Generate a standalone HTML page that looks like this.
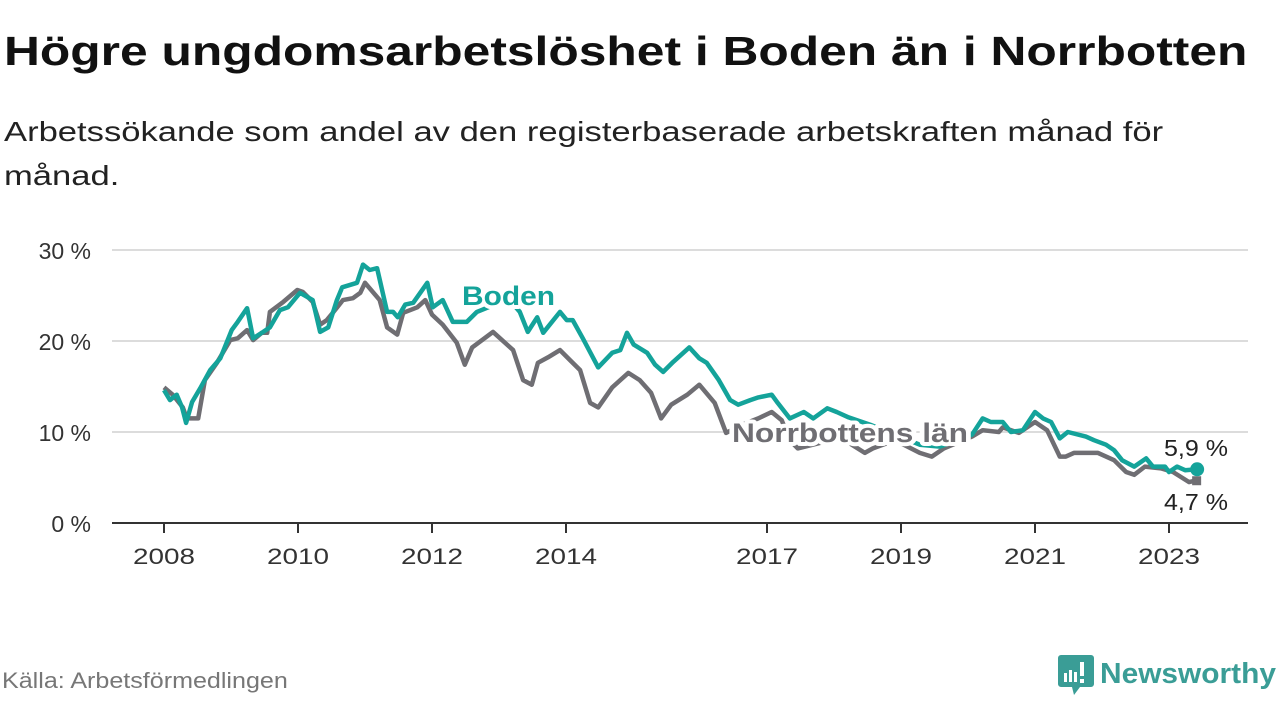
<!DOCTYPE html>
<html><head><meta charset="utf-8">
<style>
body{margin:0;width:1280px;height:720px;background:#fff;overflow:hidden;font-family:"Liberation Sans","DejaVu Sans",sans-serif;}
#title{position:absolute;left:4px;top:28px;font-size:41px;font-weight:bold;color:#111;margin:0;white-space:nowrap;transform:scaleX(1.213);transform-origin:0 0}
#sub{position:absolute;left:4px;top:110px;font-size:28px;color:#222;line-height:44px;margin:0;white-space:nowrap;transform:scaleX(1.235);transform-origin:0 0}
#src{position:absolute;left:2px;top:668px;font-size:22px;color:#777;white-space:nowrap;transform:scaleX(1.14);transform-origin:0 0}
</style></head><body>
<h1 id="title">Högre ungdomsarbetslöshet i Boden än i Norrbotten</h1>
<p id="sub">Arbetssökande som andel av den registerbaserade arbetskraften månad för<br>månad.</p>
<svg id="chart" width="1280" height="720" style="position:absolute;left:0;top:0"></svg>
<div id="src">Källa: Arbetsförmedlingen</div>
<svg style="position:absolute;left:1058px;top:653px" width="222" height="48">
<path d="M3 2h30a3 3 0 0 1 3 3v26a3 3 0 0 1-3 3H22l-6 8-2-8H3a3 3 0 0 1-3-3V5a3 3 0 0 1 3-3z" fill="#3a9d96"/>
<rect x="6" y="20" width="3" height="9" fill="#fff"/><rect x="11" y="17" width="3" height="12" fill="#fff"/><rect x="16" y="19" width="3" height="10" fill="#fff"/><rect x="22" y="9" width="4" height="14" fill="#fff"/><rect x="22" y="26" width="4" height="4" fill="#fff"/>
<text x="42" y="30" font-size="29" font-weight="bold" fill="#3a9d96" font-family="Liberation Sans,sans-serif" textLength="176" lengthAdjust="spacingAndGlyphs">Newsworthy</text>
</svg>
<script>
const yTicks=[0,10,20,30];
const yTickLabels=["0 %","10 %","20 %","30 %"];
const xTicks=[2008,2010,2012,2014,2017,2019,2021,2023];
const bodenYears=[2008.0,2008.09,2008.19,2008.27,2008.33,2008.42,2008.54,2008.69,2008.84,2009.01,2009.10,2009.24,2009.33,2009.48,2009.58,2009.73,2009.85,2010.03,2010.22,2010.33,2010.45,2010.58,2010.66,2010.88,2010.97,2011.07,2011.18,2011.33,2011.42,2011.49,2011.60,2011.72,2011.93,2012.01,2012.16,2012.31,2012.52,2012.67,2012.94,2013.16,2013.31,2013.43,2013.57,2013.66,2013.91,2014.01,2014.10,2014.25,2014.48,2014.69,2014.81,2014.91,2015.01,2015.21,2015.33,2015.45,2015.60,2015.84,2015.99,2016.10,2016.28,2016.45,2016.57,2016.75,2016.87,2017.07,2017.16,2017.34,2017.55,2017.69,2017.90,2018.04,2018.22,2018.54,2018.91,2019.28,2019.58,2020.06,2020.22,2020.34,2020.52,2020.64,2020.82,2021.00,2021.12,2021.24,2021.37,2021.49,2021.76,2021.88,2022.06,2022.18,2022.30,2022.48,2022.66,2022.76,2022.94,2023.00,2023.12,2023.24,2023.42];
const bodenValues=[14.6,13.5,14.1,12.7,11.0,13.3,14.8,16.8,18.1,21.2,22.1,23.6,20.3,21.0,21.5,23.4,23.7,25.3,24.5,21.0,21.5,24.5,25.9,26.4,28.4,27.8,28.0,23.2,23.2,22.6,24.0,24.2,26.4,23.7,24.5,22.1,22.1,23.2,24.0,24.5,23.2,21.0,22.6,20.9,23.2,22.3,22.3,20.3,17.1,18.7,19.0,20.9,19.6,18.7,17.4,16.6,17.7,19.3,18.1,17.6,15.7,13.5,13.0,13.5,13.8,14.1,13.2,11.5,12.2,11.5,12.6,12.2,11.6,10.8,9.7,8.6,8.4,9.7,11.5,11.1,11.1,10.0,10.2,12.2,11.5,11.1,9.3,10.0,9.5,9.1,8.6,8.0,6.9,6.2,7.1,6.2,6.2,5.6,6.2,5.8,5.9];
const nbYears=[2008.0,2008.13,2008.28,2008.34,2008.51,2008.61,2008.79,2008.99,2009.10,2009.24,2009.33,2009.46,2009.54,2009.58,2009.78,2009.99,2010.07,2010.22,2010.33,2010.43,2010.52,2010.67,2010.82,2010.93,2011.00,2011.22,2011.33,2011.48,2011.57,2011.78,2011.90,2012.00,2012.16,2012.37,2012.49,2012.60,2012.91,2013.21,2013.36,2013.49,2013.58,2013.73,2013.91,2014.06,2014.21,2014.36,2014.48,2014.69,2014.93,2015.10,2015.27,2015.42,2015.57,2015.81,2015.99,2016.22,2016.39,2016.63,2016.87,2017.07,2017.22,2017.34,2017.46,2017.79,2018.16,2018.46,2018.58,2018.91,2019.28,2019.46,2019.64,2020.06,2020.22,2020.46,2020.52,2020.76,2021.00,2021.18,2021.37,2021.46,2021.58,2021.94,2022.18,2022.36,2022.48,2022.64,2022.88,2023.06,2023.30,2023.42];
const nbValues=[14.9,14.1,12.7,11.5,11.5,15.7,17.6,20.1,20.3,21.2,20.1,20.9,20.9,23.2,24.3,25.6,25.4,24.3,21.8,22.3,23.1,24.5,24.7,25.3,26.4,24.5,21.5,20.7,23.1,23.7,24.5,22.9,21.8,19.8,17.4,19.3,21.0,19.0,15.7,15.2,17.6,18.2,19.0,17.9,16.8,13.2,12.7,14.9,16.5,15.7,14.3,11.5,13.0,14.1,15.2,13.2,9.9,10.8,11.5,12.2,11.3,9.1,8.2,8.8,9.1,7.7,8.2,9.1,7.7,7.3,8.2,9.5,10.2,10.0,10.5,9.9,11.1,10.2,7.3,7.3,7.7,7.7,6.9,5.6,5.3,6.2,6.0,5.6,4.5,4.7];
const NS="http://www.w3.org/2000/svg";
const svg=document.getElementById('chart');
const x=y=>164+(y-2008)*67;
const yS=v=>523-v*9.1;
function mk(t,a,p){const e=document.createElementNS(NS,t);for(const k in a)e.setAttribute(k,a[k]);(p||svg).appendChild(e);return e;}
yTicks.forEach((t,i)=>{
 if(t>0){const g=mk('line',{x1:112,x2:1248,y1:yS(t),y2:yS(t),stroke:'#dcdcdc','stroke-width':2});
 
 }
 const l=mk('text',{x:91,y:yS(t)+9,'text-anchor':'end','font-size':23,fill:'#333','font-family':'Liberation Sans,sans-serif'});
 l.textContent=yTickLabels[i];
 
 
});
xTicks.forEach(t=>{
 const k=mk('line',{x1:x(t),x2:x(t),y1:523,y2:533,stroke:'#333','stroke-width':2});
 
 
 const l=mk('text',{x:x(t)-31,y:564,'font-size':22,fill:'#333','font-family':'Liberation Sans,sans-serif','textLength':62,'lengthAdjust':'spacingAndGlyphs'});
 l.textContent=String(t);
 
 
});
const ax=mk('line',{x1:112,x2:1248,y1:523,y2:523,stroke:'#333','stroke-width':2});


function line(xs,vs,c,name){
 const d=xs.map((t,i)=>(i?'L':'M')+x(t).toFixed(1)+' '+yS(vs[i]).toFixed(1)).join('');
 const p=mk('path',{d:d,fill:'none',stroke:c,'stroke-width':4.5,'stroke-linejoin':'round'});
 
 
}
line(nbYears,nbValues,'#6f6e73','norrbotten-line');
line(bodenYears,bodenValues,'#14a39a','boden-line');
const nl=nbYears.length-1, bl=bodenYears.length-1;
const e1=mk('rect',{x:x(nbYears[nl])-5,y:yS(nbValues[nl])-4,width:9,height:9,fill:'#6f6e73'});


const e2=mk('circle',{cx:x(bodenYears[bl]),cy:yS(bodenValues[bl]),r:7,fill:'#14a39a'});


function lab(txt,X,Y,c,w,a,name,sz,len){
 const t=mk('text',{x:X,y:Y,'font-size':sz,'font-weight':w,fill:c,stroke:'#fff','stroke-width':8,'paint-order':'stroke','stroke-linejoin':'round','text-anchor':a,'font-family':'Liberation Sans,sans-serif','textLength':len,'lengthAdjust':'spacingAndGlyphs'});
 t.textContent=txt;
 
 
}
lab('Boden',462,305,'#14a39a','bold','start','boden-label',27,93);
lab('Norrbottens län',732,442,'#6f6e73','bold','start','norrbotten-label',27,236);
lab('5,9 %',1228,456,'#222','normal','end','boden-end-value',23,64);
lab('4,7 %',1228,510,'#222','normal','end','norrbotten-end-value',23,64);
</script>
</body></html>
